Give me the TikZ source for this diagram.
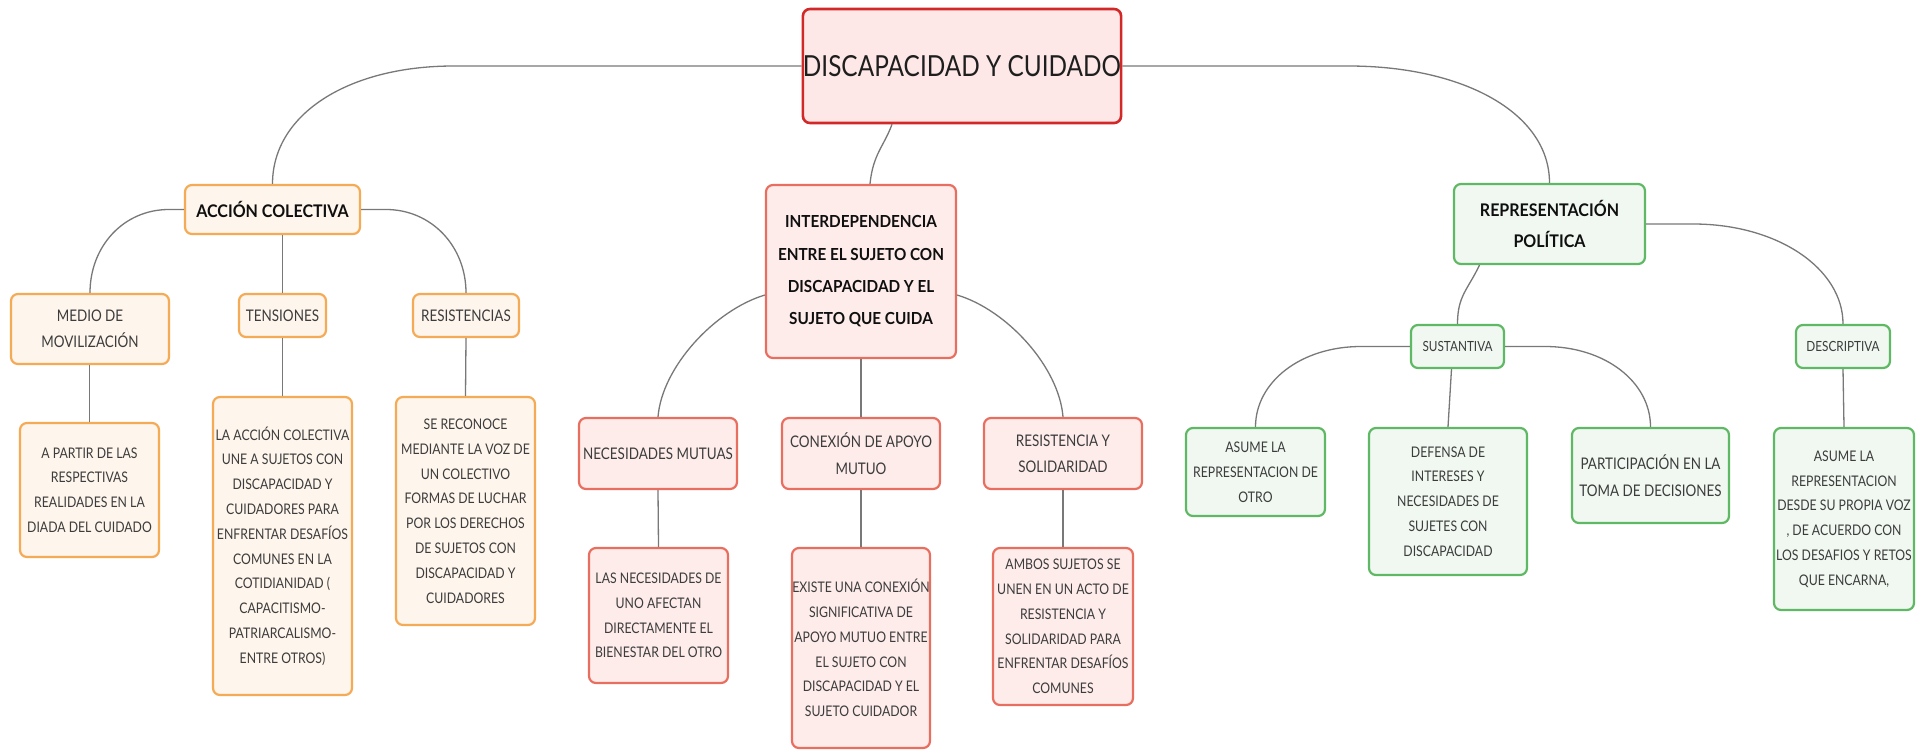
\documentclass[tikz,border=0pt]{standalone}
\usepackage{fontspec}
\setmainfont{Lato}[FakeStretch=0.84]
\newfontfamily\boldfam{Lato}[FakeStretch=0.92]
\usetikzlibrary{calc}
\definecolor{rootfill}{RGB}{253,231,231}
\definecolor{rootline}{RGB}{210,40,40}
\definecolor{orfill}{RGB}{254,245,236}
\definecolor{orline}{RGB}{245,170,85}
\definecolor{cofill}{RGB}{253,236,234}
\definecolor{coline}{RGB}{232,110,95}
\definecolor{grfill}{RGB}{240,248,241}
\definecolor{grline}{RGB}{95,185,100}
\definecolor{txtgray}{RGB}{60,60,60}
\definecolor{conngray}{RGB}{120,120,120}
\begin{document}
\begin{tikzpicture}[x=0.5pt,y=-0.5pt,
  sz/.style 2 args={minimum width={#1*0.5pt}, minimum height={#2*0.5pt}},
  box/.style={rounded corners=3.5pt, line width=1.1pt, align=center, inner sep=0pt,
    text=txtgray, font=\fontsize{7.3}{12.4}\selectfont},
  rootbox/.style={box, draw=rootline, fill=rootfill, line width=1.3pt, text={rgb,255:red,30;green,30;blue,30},
    font=\fontsize{14.5}{17}\selectfont},
  obox/.style={box, draw=orline, fill=orfill},
  cbox/.style={box, draw=coline, fill=cofill},
  gbox/.style={box, draw=grline, fill=grfill},
  hbold/.style={text={rgb,255:red,15;green,15;blue,15}, font=\boldfam\fontsize{8.7}{15.5}\selectfont\bfseries},
  hboldi/.style={text={rgb,255:red,15;green,15;blue,15}, font=\boldfam\fontsize{8.3}{16.2}\selectfont\bfseries},
  mid/.style={font=\fontsize{8}{13.2}\selectfont},
  small/.style={font=\fontsize{7}{10}\selectfont},
  conn/.style={draw=conngray, line width=0.65pt}
]
\useasboundingbox[fill=white] (0,0) rectangle (1923,750);

% root
\node[rootbox, sz={318}{114}] (root) at (962,66) {DISCAPACIDAD Y CUIDADO};

% left branch
\node[obox, hbold, sz={175}{49}] (ac) at (272.5,209.5) {ACCIÓN COLECTIVA};
\node[obox, mid, sz={158}{70}] (medio) at (90,329) {MEDIO DE\\MOVILIZACIÓN};
\node[obox, mid, sz={87}{43}] (tens) at (282.5,315.5) {TENSIONES};
\node[obox, mid, sz={106}{43}] (resis) at (466,315.5) {RESISTENCIAS};
\node[obox, sz={139}{134}] (apartir) at (89.5,490) {A PARTIR DE LAS\\RESPECTIVAS\\REALIDADES EN LA\\DIADA DEL CUIDADO};
\node[obox, sz={139}{298}] (laaccion) at (282.5,546) {LA ACCIÓN COLECTIVA\\UNE A SUJETOS CON\\DISCAPACIDAD Y\\CUIDADORES PARA\\ENFRENTAR DESAFÍOS\\COMUNES EN LA\\COTIDIANIDAD (\\CAPACITISMO-\\PATRIARCALISMO-\\ENTRE OTROS)};
\node[obox, sz={139}{228}] (sereconoce) at (465.5,511) {SE RECONOCE\\MEDIANTE LA VOZ DE\\UN COLECTIVO\\FORMAS DE LUCHAR\\POR LOS DERECHOS\\DE SUJETOS CON\\DISCAPACIDAD Y\\CUIDADORES};

% middle branch
\node[cbox, hboldi, sz={190}{173}] (inter) at (861,271.5) {INTERDEPENDENCIA\\ENTRE EL SUJETO CON\\DISCAPACIDAD Y EL\\SUJETO QUE CUIDA};
\node[cbox, mid, sz={158}{71}] (necm) at (658,453.5) {NECESIDADES MUTUAS};
\node[cbox, mid, sz={158}{71}] (conex) at (861,453.5) {CONEXIÓN DE APOYO\\MUTUO};
\node[cbox, mid, sz={158}{71}] (ressol) at (1063,453.5) {RESISTENCIA Y\\SOLIDARIDAD};
\node[cbox, sz={139}{135}] (lasnec) at (658.5,615.5) {LAS NECESIDADES DE\\UNO AFECTAN\\DIRECTAMENTE EL\\BIENESTAR DEL OTRO};
\node[cbox, sz={138}{200}] (existe) at (861,648) {EXISTE UNA CONEXIÓN\\SIGNIFICATIVA DE\\APOYO MUTUO ENTRE\\EL SUJETO CON\\DISCAPACIDAD Y EL\\SUJETO CUIDADOR};
\node[cbox, sz={140}{157}] (ambos) at (1063,626.5) {AMBOS SUJETOS SE\\UNEN EN UN ACTO DE\\RESISTENCIA Y\\SOLIDARIDAD PARA\\ENFRENTAR DESAFÍOS\\COMUNES};

% right branch
\node[gbox, hbold, sz={191}{80}] (repr) at (1549.5,224) {REPRESENTACIÓN\\POLÍTICA};
\node[gbox, small, sz={93}{43}] (sust) at (1457.5,346.5) {SUSTANTIVA};
\node[gbox, small, sz={94}{43}] (desc) at (1843,346.5) {DESCRIPTIVA};
\node[gbox, sz={139}{88}] (asotro) at (1255.5,472) {ASUME LA\\REPRESENTACION DE\\OTRO};
\node[gbox, sz={158}{147}] (defensa) at (1448,501.5) {DEFENSA DE\\INTERESES Y\\NECESIDADES DE\\SUJETES CON\\DISCAPACIDAD};
\node[gbox, mid, sz={157}{95}] (partic) at (1650.5,475.5) {PARTICIPACIÓN EN LA\\TOMA DE DECISIONES};
\node[gbox, sz={140}{182}] (asdesde) at (1844,519) {ASUME LA\\REPRESENTACION\\DESDE SU PROPIA VOZ\\, DE ACUERDO CON\\LOS DESAFIOS Y RETOS\\QUE ENCARNA,};

% connectors
\draw[conn] (root.west) -- ++(-348,0) .. controls +(-105,0) and +(0,-70) .. (ac.north);
\draw[conn] ($(root.south)+(-70,0)$) .. controls +(-8,22) and +(3,-30) .. ($(inter.north)+(9,0)$);
\draw[conn] (root.east) -- ++(226,0) .. controls +(115,0) and +(0,-70) .. (repr.north);

\draw[conn] (ac.west) -- ++(-15,0) .. controls +(-45,0) and +(0,-47) .. (medio.north);
\draw[conn] (tens.north |- ac.south) -- (tens.north);
\draw[conn] (ac.east) -- ++(25,0) .. controls +(45,0) and +(0,-47) .. (resis.north);
\draw[conn] (apartir.north |- medio.south) -- (apartir.north);
\draw[conn] (tens.south) -- (laaccion.north);
\draw[conn] (resis.south) -- (sereconoce.north);

\draw[conn] ($(inter.west)+(0,23.5)$) .. controls +(-50,15) and +(4,-50) .. (necm.north);
\draw[conn] (inter.south) -- (conex.north);
\draw[conn] ($(inter.east)+(0,23.5)$) .. controls +(50,15) and +(-4,-50) .. (ressol.north);
\draw[conn] (necm.south) -- (lasnec.north);
\draw[conn] (conex.south) -- (existe.north);
\draw[conn] (ressol.south) -- (ambos.north);

\draw[conn] ($(repr.south)+(-70,0)$) .. controls +(-12,25) and +(0,-28) .. (sust.north);
\draw[conn] (repr.east) -- ++(47,0) .. controls +(85,0) and +(0,-55) .. (desc.north);
\draw[conn] (sust.west) -- ++(-49,0) .. controls +(-60,0) and +(0,-45) .. (asotro.north);
\draw[conn] ($(sust.south)+(-6,0)$) -- (defensa.north);
\draw[conn] (sust.east) -- ++(40,0) .. controls +(60,0) and +(0,-45) .. (partic.north);
\draw[conn] (desc.south) -- (asdesde.north);
\end{tikzpicture}
\end{document}
